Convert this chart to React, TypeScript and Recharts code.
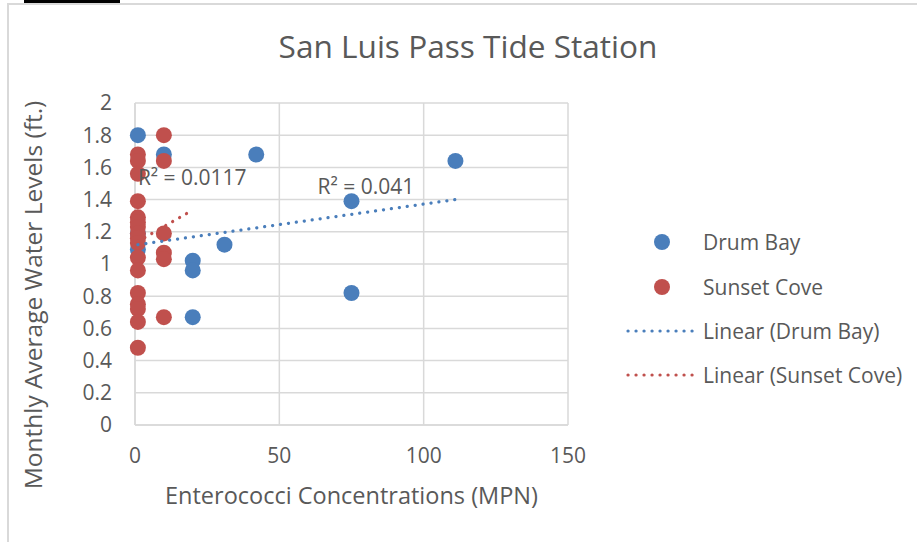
import { ScatterChart, Scatter, XAxis, YAxis, CartesianGrid, ReferenceDot, Label } from 'recharts';

// Drum Bay samples (blue)
const drumBayX = [1, 1, 1, 10, 42, 111, 75, 31, 20, 20, 75, 20];
const drumBayY = [1.8, 1.19, 1.09, 1.68, 1.68, 1.64, 1.39, 1.12, 1.02, 0.96, 0.82, 0.67];

// Sunset Cove samples (red)
const sunsetX = [1, 1, 1, 1, 1, 1, 1, 1, 1, 1, 1, 1, 1, 1, 1, 1, 1, 10, 10, 10, 10, 10, 10];
const sunsetY = [1.68, 1.64, 1.56, 1.39, 1.29, 1.26, 1.23, 1.19, 1.16, 1.13, 1.04, 0.96, 0.82, 0.75, 0.72, 0.64, 0.48, 1.8, 1.64, 1.19, 1.07, 1.03, 0.67];

// linear trendline end points
const drumTrendX = [1, 111];
const drumTrendY = [1.12, 1.4];
const sunsetTrendX = [1, 18.5];
const sunsetTrendY = [1.14, 1.32];

// R² annotations
const r2Labels = ['R² = 0.0117', 'R² = 0.041'];
const r2X = [1, 80];
const r2Y = [1.54, 1.485];
const r2Anchor = ['start', 'middle'];

const xTicks = [0, 50, 100, 150];
const yTicks = [0, 0.2, 0.4, 0.6, 0.8, 1, 1.2, 1.4, 1.6, 1.8, 2];

const seriesNames = ['Drum Bay', 'Sunset Cove', 'Linear (Drum Bay)', 'Linear (Sunset Cove)'];

const BLUE = '#4A7EBB';
const RED = '#C0504D';
const GRID = '#D9D9D9';
const TEXT = '#595959';

const zip = (xs: number[], ys: number[]) => xs.map((x, i) => ({ x, y: ys[i] }));

const drumData = zip(drumBayX, drumBayY);
const sunsetData = zip(sunsetX, sunsetY);
const drumTrend = zip(drumTrendX, drumTrendY);
const sunsetTrend = zip(sunsetTrendX, sunsetTrendY);

const dot = (color: string) => (p: any) => <circle cx={p.cx} cy={p.cy} r={8} fill={color} />;
const noDot = () => <g />;

const dotted = (color: string) => ({
  stroke: color,
  strokeWidth: 3.2,
  strokeDasharray: '0.1 7.9',
  strokeLinecap: 'round' as const,
});

function LegendBox() {
  const colors = [BLUE, RED, BLUE, RED];
  const tops = [242, 287, 331, 375];
  return (
    <>
      {seriesNames.map((name, i) => (
        <div key={name} style={{ position: 'absolute', left: 625, top: tops[i] - 15, height: 30, display: 'flex', alignItems: 'center' }}>
          <svg width={76} height={30}>
            {i < 2 ? (
              <circle cx={37} cy={15} r={8} fill={colors[i]} />
            ) : (
              <line x1={3} y1={15} x2={73} y2={15} {...dotted(colors[i])} />
            )}
          </svg>
          <span style={{ fontSize: 21, color: TEXT, marginLeft: 2 }}>{name}</span>
        </div>
      ))}
    </>
  );
}

export default function App() {
  return (
    <div style={{ position: 'absolute', left: 0, top: 0, width: 917, height: 542, overflow: 'hidden', background: '#fff', fontFamily: '"Open Sans", sans-serif' }}>
      <div style={{ position: 'absolute', left: 24, top: 0, width: 96, height: 3, background: '#000' }} />
      <div style={{ position: 'absolute', left: 7, top: 3, width: 1000, height: 600, borderLeft: `2px solid ${GRID}`, borderTop: `2px solid ${GRID}` }} />
      <div style={{ position: 'absolute', left: 0, top: 24, width: 936, textAlign: 'center', fontSize: 31.6, color: TEXT }}>
        San Luis Pass Tide Station
      </div>
      <div style={{ position: 'absolute', left: 0, top: 0 }}>
        <ScatterChart width={917} height={542} margin={{ top: 103, right: 349, bottom: 0, left: 0 }}>
          <CartesianGrid stroke={GRID} strokeWidth={1.5} />
          <XAxis
            type="number"
            dataKey="x"
            domain={[0, 150]}
            ticks={xTicks}
            height={117}
            axisLine={{ stroke: GRID, strokeWidth: 1.5 }}
            tickLine={false}
            tickMargin={17}
            tick={{ fontSize: 21, fill: TEXT }}
          >
            <Label
              content={({ viewBox }: any) => (
                <text x={viewBox.x + viewBox.width / 2} y={504} textAnchor="middle" fontSize={23.5} fill={TEXT}>
                  Enterococci Concentrations (MPN)
                </text>
              )}
            />
          </XAxis>
          <YAxis
            type="number"
            dataKey="y"
            domain={[0, 2]}
            ticks={yTicks}
            width={135}
            axisLine={{ stroke: GRID, strokeWidth: 1.5 }}
            tickLine={false}
            tickMargin={17}
            tick={{ fontSize: 21, fill: TEXT }}
          >
            <Label
              content={({ viewBox }: any) => {
                const cy = viewBox.y + viewBox.height / 2 + 31;
                return (
                  <text x={42} y={cy} transform={`rotate(-90 42 ${cy})`} textAnchor="middle" fontSize={24.5} fill={TEXT}>
                    Monthly Average Water Levels (ft.)
                  </text>
                );
              }}
            />
          </YAxis>
          <Scatter name={seriesNames[0]} data={drumData} shape={dot(BLUE)} isAnimationActive={false} />
          <Scatter name={seriesNames[1]} data={sunsetData} shape={dot(RED)} isAnimationActive={false} />
          <Scatter name={seriesNames[2]} data={drumTrend} line={dotted(BLUE)} shape={noDot} isAnimationActive={false} />
          <Scatter name={seriesNames[3]} data={sunsetTrend} line={dotted(RED)} shape={noDot} isAnimationActive={false} />
          {r2Labels.map((t, i) => (
            <ReferenceDot
              key={t}
              x={r2X[i]}
              y={r2Y[i]}
              r={1}
              shape={(p: any) => (
                <text x={p.cx} y={p.cy} dominantBaseline="central" textAnchor={r2Anchor[i] as any} fontSize={21} fill={TEXT}>
                  {t}
                </text>
              )}
            />
          ))}
        </ScatterChart>
      </div>
      <LegendBox />
    </div>
  );
}
